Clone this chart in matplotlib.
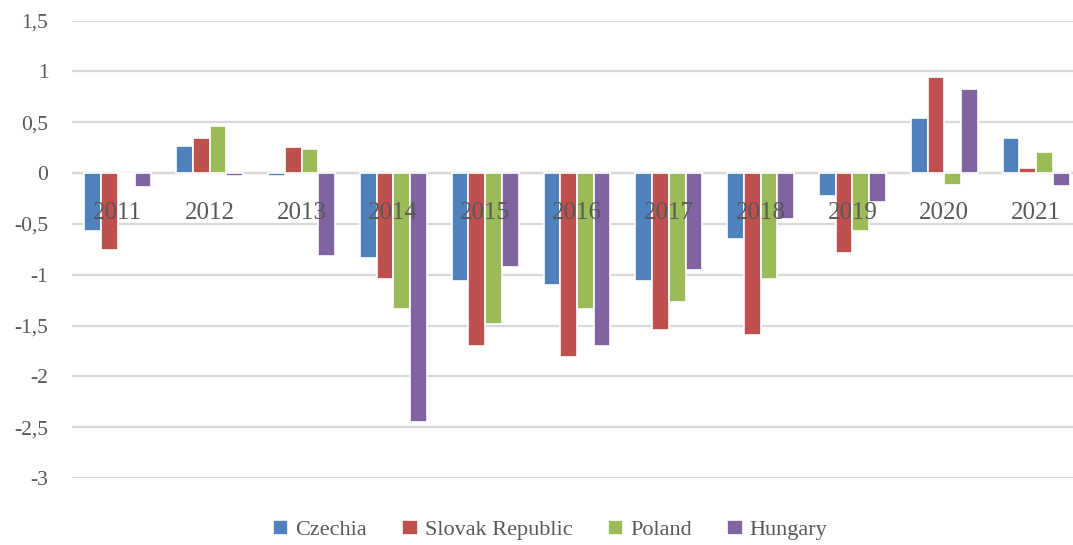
import numpy as np
import matplotlib.pyplot as plt
from matplotlib.ticker import FuncFormatter
from matplotlib.transforms import offset_copy

years = ["2011", "2012", "2013", "2014", "2015", "2016", "2017", "2018", "2019", "2020", "2021"]
czechia = [-0.57, 0.27, -0.03, -0.84, -1.06, -1.10, -1.06, -0.65, -0.23, 0.54, 0.34]
slovakia = [-0.76, 0.34, 0.26, -1.04, -1.70, -1.81, -1.54, -1.59, -0.79, 0.94, 0.05]
poland = [-0.01, 0.46, 0.24, -1.34, -1.49, -1.34, -1.27, -1.04, -0.57, -0.12, 0.21]
hungary = [-0.14, -0.03, -0.82, -2.45, -0.92, -1.70, -0.95, -0.45, -0.29, 0.83, -0.13]

series = [("Czechia", czechia, "#4F81BD"),
          ("Slovak Republic", slovakia, "#C0504D"),
          ("Poland", poland, "#9BBB59"),
          ("Hungary", hungary, "#8064A2")]

plt.rcParams['font.family'] = ['Liberation Serif', 'DejaVu Serif']
txt = "#595959"

fig = plt.figure(figsize=(10.73, 5.45), dpi=100)
ax = fig.add_axes([72 / 1073, 1 - 478 / 545, (1082 - 72) / 1073, (478 - 20.5) / 545])

x = np.arange(len(years))
w = 0.182
for i, (name, vals, col) in enumerate(series):
    ax.bar(x + (i - 1.5) * w, vals, w, color=col, edgecolor="white", linewidth=1.2,
           label=name, zorder=3)

ax.set_xlim(-0.5, len(years) - 0.5)
ax.set_ylim(-3, 1.5)
ax.set_yticks(np.arange(-3, 1.51, 0.5))
ax.yaxis.set_major_formatter(FuncFormatter(lambda v, p: f"{v:g}".replace(".", ",")))
ax.grid(axis="y", color="#D9D9D9", linewidth=1.6, zorder=0)
ax.set_axisbelow(True)
for s in ["top", "right", "left", "bottom"]:
    ax.spines[s].set_visible(False)
ax.axhline(0, color="#D9D9D9", linewidth=1.6, zorder=2)

ax.set_xticks([])
ax.tick_params(axis="y", length=0, pad=17, labelsize=15.5, labelcolor=txt)

# category labels sit at the zero line, drawn over the bars
trans = offset_copy(ax.transData, fig=fig, x=0, y=-29, units="dots")
for xi, yr in zip(x, years):
    ax.text(xi, 0, yr, transform=trans, ha="center", va="top", fontsize=18,
            color=txt, zorder=6)

fig.legend(loc="center", bbox_to_anchor=(550 / 1073, 1 - 530 / 545), ncol=4, frameon=False,
           fontsize=16, labelcolor=txt, handlelength=0.7, handleheight=0.7,
           handletextpad=0.3, columnspacing=1.6)

fig.savefig("out.png", dpi=100)
